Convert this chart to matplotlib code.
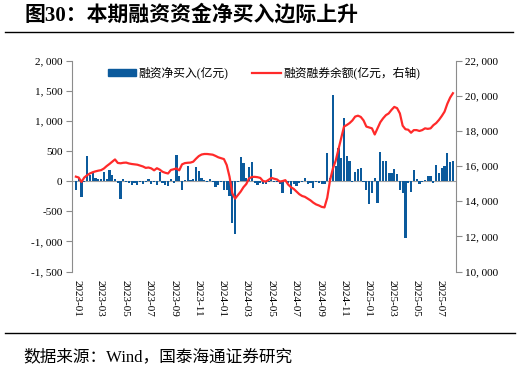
import matplotlib
import matplotlib.pyplot as plt
import pandas as pd
from matplotlib.dates import DateFormatter, MonthLocator
from matplotlib.lines import Line2D
from matplotlib.ticker import FuncFormatter, MultipleLocator

matplotlib.use("Agg")

plt.rcParams["font.family"] = ["Liberation Serif", "Noto Sans CJK SC"]
plt.rcParams["axes.unicode_minus"] = False

# weekly data, 2022-12-30 .. 2025-08-01
weeks = pd.date_range("2022-12-30", periods=136, freq="7D")

# 融资净买入 (亿元), left axis
net_buy = [
    -140, 60, -270, -20, 410, 100, 140, 60, 40, 40,
    150, 40, 190, 110, 30, -30, -290, 30, -20, -30,
    -60, -30, -60, -20, -50, -20, 30, -50, -20, -70,
    150, -30, -60, -80, 40, -30, 430, 80, -140, 20,
    260, 20, 30, 240, 170, 60, 20, -20, 30, -20,
    -100, -60, -20, -150, -150, -250, -700, -870, -20, 400,
    300, 60, 240, 310, -30, -60, -30, -40, -50, -20,
    210, -20, -20, -40, -200, 20, -30, -220, -40, -80,
    -30, -20, 60, -40, -30, -110, -20, -30, -40, -50,
    470, 60, 1430, 260, 550, 380, 1050, 410, 340, -10,
    150, 205, 217, -20, -150, -384, -200, 60, -360, 480,
    340, 340, 130, 130, 200, 120, -140, -200, -950, -30,
    -180, 180, 30, -40, -20, 20, 90, 90, -30, 270,
    130, 220, 260, 460, 320, 340,
]

# 融资融券余额 (亿元), right axis
balance = [
    15400, 15350, 15100, 15350, 15480, 15580, 15650, 15700, 15740, 15770,
    15860, 16000, 16120, 16250, 16380, 16180, 16160, 16190, 16200, 16150,
    16120, 16100, 16080, 16030, 15980, 15900, 15920, 15870, 15760, 15880,
    15800, 15680, 15620, 15580, 15780, 15820, 15870, 15760, 16100, 16170,
    16190, 16200, 16250, 16420, 16570, 16660, 16690, 16690, 16670, 16650,
    16580, 16500, 16450, 16400, 16060, 15400, 14450, 14150, 14350, 14550,
    14800, 14980, 15300, 15380, 15390, 15370, 15330, 15150, 15120, 15220,
    15330, 15280, 15240, 15120, 15150, 15200, 14950, 14800, 14700, 14550,
    14400, 14300, 14250, 14150, 14050, 13920, 13820, 13760, 13680, 13650,
    14200, 15200, 15850, 16300, 16950, 17600, 18250, 18340, 18450, 18600,
    18820, 18870, 18800, 18600, 18250, 18200, 18150, 17800, 18150, 18500,
    18720, 18900, 19000, 19200, 19370, 19300, 19000, 18300, 18100, 18070,
    17900, 18050, 18050, 18000, 18050, 18150, 18120, 18150, 18330, 18450,
    18630, 18850, 19100, 19550, 19900, 20150,
]

bar_color = "#0b5a9c"
line_color = "#ff2a2a"
axis_gray = "#8c8c8c"


def thousands(v, _):
    return f"{v:,.0f}".replace(",", ", ")


# Create a plot
fig = plt.figure(figsize=(5.24, 3.74), dpi=100)
ax = fig.add_axes([0.138, 0.274, 0.7317, 0.5637])
ax.bar(weeks, net_buy, width=5.5, color=bar_color, zorder=2)
ax.axhline(0, color="#a0a0a0", lw=0.8, zorder=1)

ax2 = ax.twinx()
ax2.plot(weeks, balance, color=line_color, lw=1.6)

ax.set_xlim(pd.Timestamp("2022-12-21"), pd.Timestamp("2025-08-08"))
ax.set_ylim(-1500, 2000)
ax2.set_ylim(10000, 22000)
ax.yaxis.set_major_locator(MultipleLocator(500))
ax2.yaxis.set_major_locator(MultipleLocator(2000))
ax.yaxis.set_major_formatter(FuncFormatter(thousands))
ax2.yaxis.set_major_formatter(FuncFormatter(thousands))

ax.xaxis.set_major_locator(MonthLocator(bymonth=[1, 3, 5, 7, 9, 11]))
ax.xaxis.set_major_formatter(DateFormatter("%Y-%m"))
ax.tick_params(axis="x", length=0, pad=6, labelsize=8)
for lbl in ax.get_xticklabels():
    lbl.set_rotation(-90)
    lbl.set_ha("center")
    lbl.set_va("top")

ax.tick_params(axis="y", length=4, width=0.8, color=axis_gray, labelsize=8, pad=3)
ax2.tick_params(axis="y", length=4, width=0.8, color=axis_gray, labelsize=8, pad=3)

for s in ["top", "bottom", "right"]:
    ax.spines[s].set_visible(False)
for s in ["top", "bottom", "left"]:
    ax2.spines[s].set_visible(False)
ax.spines["left"].set_color(axis_gray)
ax2.spines["right"].set_color(axis_gray)

# legend
handles = [
    plt.Rectangle((0, 0), 1, 1, color=bar_color),
    Line2D([], [], color=line_color, lw=1.6),
]
ax2.legend(handles, ["融资净买入(亿元)", "融资融券余额(亿元，右轴)"],
           loc="center", bbox_to_anchor=(0.5, 0.94), ncol=2, frameon=False,
           fontsize=8.5, handlelength=2.4, handleheight=0.5, handletextpad=0.2,
           columnspacing=2.0)

# title, rules and source
fig.text(0.047, 0.96, "图30：本期融资资金净买入边际上升", fontsize=15,
         fontweight="bold", va="center", ha="left")
fig.add_artist(Line2D([0.0095, 0.979], [0.915, 0.915], color="black", lw=1))
fig.add_artist(Line2D([0.0095, 0.983], [0.1104, 0.1104], color="black", lw=1))
fig.text(0.044, 0.046, "数据来源：Wind，国泰海通证券研究", fontsize=12,
         va="center", ha="left")

fig.savefig("out.png", dpi=100)
